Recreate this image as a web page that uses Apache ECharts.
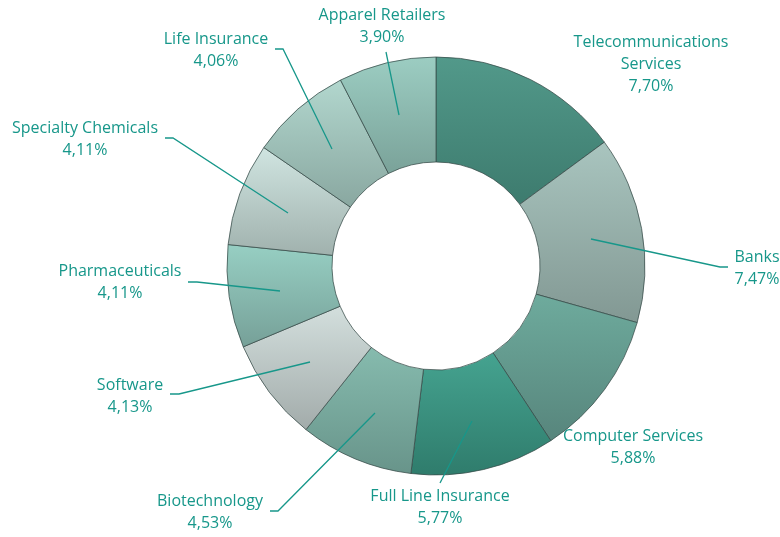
<!DOCTYPE html>
<html>
<head>
<meta charset="utf-8">
<script src="https://cdn.jsdelivr.net/npm/echarts@6/dist/echarts.min.js"></script>
<style>
  html, body { margin: 0; padding: 0; background: #fff; }
  #chart { width: 780px; height: 537px; }
</style>
</head>
<body>
<div id="chart"></div>
<script>
// sectors, clockwise from 12 o'clock
const categories = [
  'Telecommunications\nServices',
  'Banks',
  'Computer Services',
  'Full Line Insurance',
  'Biotechnology',
  'Software',
  'Pharmaceuticals',
  'Specialty Chemicals',
  'Life Insurance',
  'Apparel Retailers'
]
const shares = [7.70, 7.47, 5.88, 5.77, 4.53, 4.13, 4.11, 4.11, 4.06, 3.90]

// top / bottom shade of each sector
const shadeTop = ['#52998a', '#a9c5bf', '#6eab9d', '#45a390', '#86bbae', '#d3dfdd', '#97cfc3', '#d0e5e1', '#b2d7ce', '#9ccdc2']
const shadeBottom = ['#3d7b6e', '#829893', '#57857c', '#2f7c6c', '#68948a', '#a2abaa', '#76a098', '#a0b1ad', '#89a7a0', '#7aa299']

// label anchor (centre of text block) and leader line, per sector
const labelPos = [
  [651, 64], [757, 268], [633, 447], [440, 507], [210, 512],
  [130, 396], [120, 282], [85, 139], [216, 50], [382, 26]
]
const leaderLines = [
  null,
  [[591, 239], [720, 267], [728, 267]],
  null,
  [[472, 421], [440, 483]],
  [[375, 413], [278, 511], [270, 511]],
  [[310, 362], [179, 394], [170, 394]],
  [[280, 291], [197, 282], [188, 282]],
  [[288, 213], [173, 138], [165, 138]],
  [[332, 149], [283, 49], [275, 49]],
  [[399, 115], [386, 52]]
]

const teal = '#17978a'

const chart = echarts.init(document.getElementById('chart'))

const option = {
  animation: false,
  // leader lines sit on top of the ring
  graphic: leaderLines.filter(Boolean).map((pts) => ({
    type: 'polyline',
    z: 100,
    silent: true,
    shape: { points: pts },
    style: { stroke: teal, lineWidth: 1.3, fill: null }
  })),
  series: [
    {
      type: 'pie',
      center: [436, 266],
      radius: [104, 209],
      startAngle: 90,
      clockwise: true,
      avoidLabelOverlap: false,
      itemStyle: {
        borderColor: 'rgba(55, 75, 72, 0.75)',
        borderWidth: 1
      },
      label: {
        show: true,
        position: 'outside',
        color: teal,
        fontFamily: 'Open Sans',
        fontSize: 16,
        lineHeight: 22,
        align: 'center',
        formatter: (p) => p.name + '\n' + p.value.toFixed(2).replace('.', ',') + '%'
      },
      labelLine: { show: false },
      labelLayout: (params) => ({
        x: labelPos[params.dataIndex][0],
        y: labelPos[params.dataIndex][1],
        align: 'center',
        verticalAlign: 'middle'
      }),
      data: categories.map((name, i) => ({
        name: name,
        value: shares[i],
        itemStyle: {
          color: {
            type: 'linear', x: 0, y: 0, x2: 0, y2: 1,
            colorStops: [
              { offset: 0, color: shadeTop[i] },
              { offset: 1, color: shadeBottom[i] }
            ]
          }
        }
      }))
    }
  ]
}

chart.setOption(option)
</script>
</body>
</html>
